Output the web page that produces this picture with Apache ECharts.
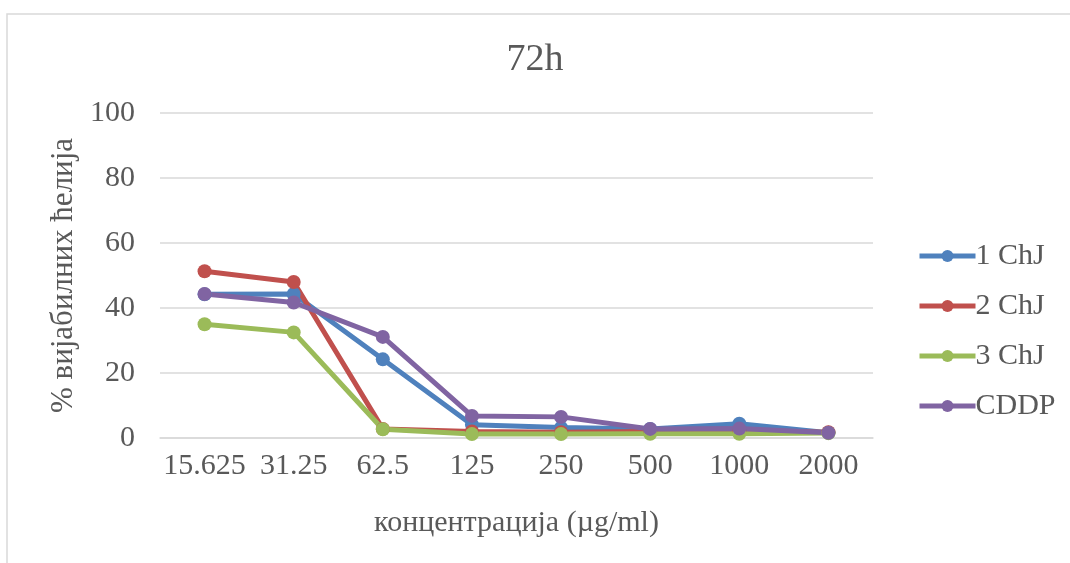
<!DOCTYPE html>
<html>
<head>
<meta charset="utf-8">
<script src="https://cdn.jsdelivr.net/npm/echarts@6/dist/echarts.min.js"></script>
<style>
html,body{margin:0;padding:0;background:#fff;}
#c{width:1070px;height:563px;}
</style>
</head>
<body>
<div id="c"></div>
<script>
const categories = ['15.625', '31.25', '62.5', '125', '250', '500', '1000', '2000'];
const seriesNames = ['1 ChJ', '2 ChJ', '3 ChJ', 'CDDP'];
const chj1 = [44.2, 44.3, 24.2, 4.1, 3.2, 2.8, 4.4, 1.6];
const chj2 = [51.3, 48.0, 2.8, 2.0, 1.8, 2.0, 2.2, 1.8];
const chj3 = [35.0, 32.5, 2.7, 1.2, 1.2, 1.3, 1.3, 1.5];
const cddp = [44.3, 41.7, 31.1, 6.8, 6.5, 2.8, 2.9, 1.6];
const yTicks = [0, 20, 40, 60, 80, 100];
const titleText = '72h';
const xName = 'концентрација (µg/ml)';
const yName = '% вијабилних ћелија';

const colors = ['#4F81BD', '#C0504D', '#9BBB59', '#8064A2'];
const font = 'Liberation Serif';
const txt = '#595959';
const allData = [chj1, chj2, chj3, cddp];

const chart = echarts.init(document.getElementById('c'), null, {renderer: 'canvas'});
chart.setOption({
  animation: false,
  backgroundColor: '#fff',
  color: colors,
  graphic: [{
    type: 'rect',
    shape: {x: 7, y: 14, width: 1200, height: 700},
    style: {fill: 'none', stroke: '#d9d9d9', lineWidth: 1.5},
    silent: true
  }],
  title: {
    text: titleText,
    left: 'center',
    top: 36,
    textStyle: {fontFamily: font, fontSize: 38, fontWeight: 'normal', color: txt}
  },
  legend: {
    orient: 'vertical',
    left: 912,
    top: 236,
    itemWidth: 56,
    itemHeight: 15,
    itemGap: 20,
    data: seriesNames,
    lineStyle: {width: 5},
    textStyle: {fontFamily: font, fontSize: 30, color: txt, lineHeight: 30, padding: [0, 0, 0, -5]}
  },
  grid: {left: 160, right: 197, top: 113, bottom: 125, containLabel: false},
  xAxis: {
    type: 'category',
    data: categories,
    boundaryGap: true,
    name: xName,
    nameLocation: 'middle',
    nameGap: 70,
    nameTextStyle: {fontFamily: font, fontSize: 30, color: txt},
    axisLine: {lineStyle: {color: '#d9d9d9', width: 1.5}},
    axisTick: {show: false},
    axisLabel: {fontFamily: font, fontSize: 30, color: txt, margin: 13, interval: 0}
  },
  yAxis: {
    type: 'value',
    min: yTicks[0],
    max: yTicks[yTicks.length - 1],
    interval: yTicks[1] - yTicks[0],
    name: yName,
    nameLocation: 'middle',
    nameGap: 80,
    nameTextStyle: {fontFamily: font, fontSize: 31, color: txt},
    axisLine: {show: false},
    axisTick: {show: false},
    axisLabel: {fontFamily: font, fontSize: 30, color: txt, margin: 25},
    splitLine: {lineStyle: {color: '#d9d9d9', width: 1.5}}
  },
  series: seriesNames.map((n, i) => ({
    name: n,
    type: 'line',
    data: allData[i],
    symbol: 'circle',
    symbolSize: 14,
    lineStyle: {width: 5, color: colors[i]},
    itemStyle: {color: colors[i]}
  }))
});
</script>
</body>
</html>
